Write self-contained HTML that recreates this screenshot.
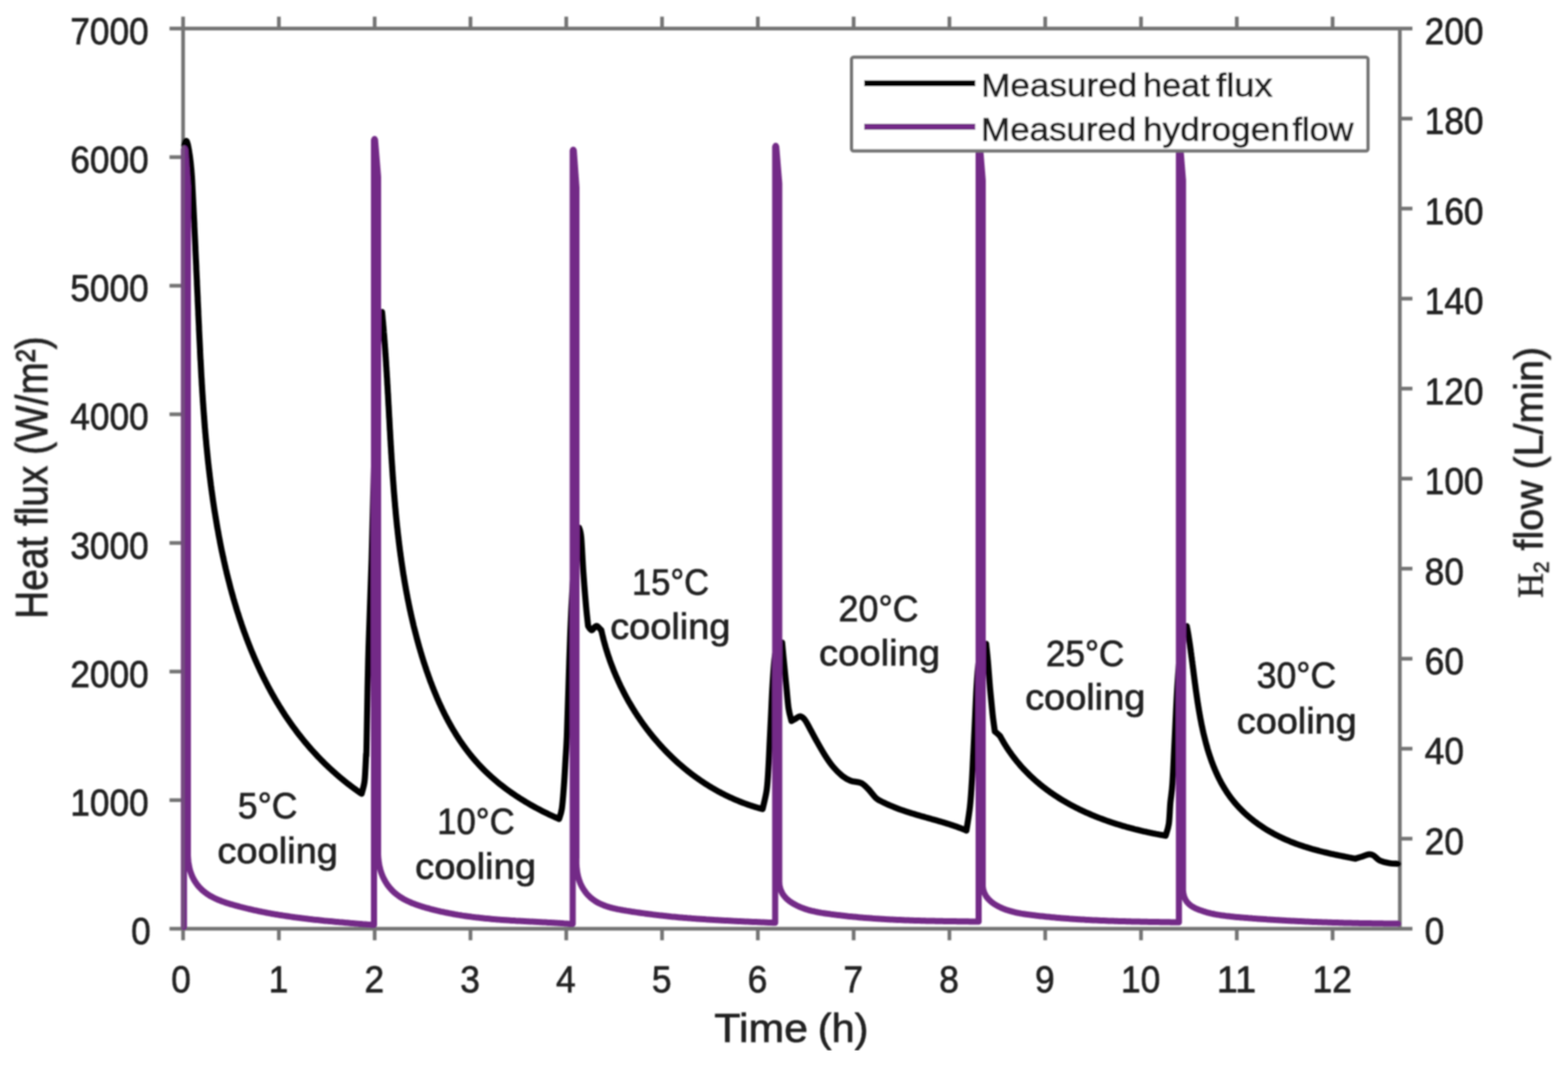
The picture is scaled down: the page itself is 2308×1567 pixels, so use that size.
<!DOCTYPE html>
<html><head><meta charset="utf-8"><title>Heat flux and hydrogen flow</title>
<style>html,body{margin:0;padding:0;background:#fff;}svg{display:block;}</style>
</head><body>
<svg xmlns="http://www.w3.org/2000/svg" width="2308" height="1567" viewBox="0 0 2308 1567">
<defs><filter id="soft" x="0" y="0" width="100%" height="100%"><feGaussianBlur stdDeviation="0.9"/></filter></defs>
<rect width="2308" height="1567" fill="#ffffff"/>
<g filter="url(#soft)">
<g fill="none" stroke="#747474" stroke-width="5.5" stroke-linecap="butt"><path d="M269.5,24.5 V1383.5" /><path d="M249.5,42.0 H2079.0" /><path d="M249.5,1366.5 H2079.0" /><path d="M2060.5,42.0 V1366.5" /><path d="M410.5,24.5 V42.0 M410.5,1366.5 V1383.5" /><path d="M551.5,24.5 V42.0 M551.5,1366.5 V1383.5" /><path d="M692.5,24.5 V42.0 M692.5,1366.5 V1383.5" /><path d="M833.5,24.5 V42.0 M833.5,1366.5 V1383.5" /><path d="M974.5,24.5 V42.0 M974.5,1366.5 V1383.5" /><path d="M1115.5,24.5 V42.0 M1115.5,1366.5 V1383.5" /><path d="M1256.5,24.5 V42.0 M1256.5,1366.5 V1383.5" /><path d="M1397.5,24.5 V42.0 M1397.5,1366.5 V1383.5" /><path d="M1538.5,24.5 V42.0 M1538.5,1366.5 V1383.5" /><path d="M1679.5,24.5 V42.0 M1679.5,1366.5 V1383.5" /><path d="M1820.5,24.5 V42.0 M1820.5,1366.5 V1383.5" /><path d="M1961.5,24.5 V42.0 M1961.5,1366.5 V1383.5" /><path d="M249.5,1177.3 H269.5" /><path d="M249.5,988.1 H269.5" /><path d="M249.5,798.9 H269.5" /><path d="M249.5,609.6 H269.5" /><path d="M249.5,420.4 H269.5" /><path d="M249.5,231.2 H269.5" /><path d="M2060.5,1234.0 H2079" /><path d="M2060.5,1101.6 H2079" /><path d="M2060.5,969.2 H2079" /><path d="M2060.5,836.7 H2079" /><path d="M2060.5,704.2 H2079" /><path d="M2060.5,571.8 H2079" /><path d="M2060.5,439.4 H2079" /><path d="M2060.5,306.9 H2079" /><path d="M2060.5,174.5 H2079" /></g>
<path d="M271.2,214.0 L271.7,211.5 L272.2,209.6 L272.7,208.3 L273.2,207.5 L273.7,207.2 L274.2,207.3 L274.7,207.8 L275.1,208.6 L275.6,209.8 L276.0,211.3 L276.5,212.9 L276.9,214.8 L277.3,216.7 L277.7,218.8 L278.1,221.0 L278.4,223.1 L278.7,225.3 L279.1,227.4 L279.4,229.5 L279.7,231.6 L279.9,233.7 L280.2,235.8 L280.4,237.9 L280.7,240.0 L280.9,242.0 L281.1,244.1 L281.3,246.1 L281.5,248.2 L281.7,250.2 L281.8,252.2 L282.0,254.2 L282.1,256.2 L282.3,258.3 L282.4,260.3 L282.6,262.3 L282.7,264.3 L282.8,266.2 L282.9,268.2 L283.0,270.2 L283.1,272.2 L283.2,274.2 L283.3,276.2 L283.4,278.2 L283.5,280.2 L283.6,282.2 L283.7,284.1 L283.8,286.1 L283.9,288.1 L284.0,290.1 L284.1,292.1 L284.2,294.1 L284.3,296.1 L284.4,298.1 L284.5,300.1 L284.6,302.1 L284.7,304.1 L284.8,306.1 L284.9,308.1 L285.0,310.1 L285.1,312.1 L285.2,314.1 L285.3,316.1 L285.4,318.1 L285.5,320.1 L285.6,322.1 L285.7,324.1 L285.8,326.1 L285.9,328.2 L286.0,330.2 L286.0,332.2 L286.1,334.2 L286.2,336.2 L286.3,338.2 L286.4,340.2 L286.5,342.2 L286.6,344.3 L286.7,346.3 L286.8,348.3 L286.9,350.3 L287.0,352.3 L287.1,354.3 L287.2,356.4 L287.3,358.4 L287.4,360.4 L287.5,362.4 L287.6,364.4 L287.6,366.4 L287.7,368.5 L287.8,370.5 L287.9,372.5 L288.0,374.5 L288.1,376.6 L288.2,378.6 L288.3,380.6 L288.4,382.6 L288.5,384.6 L288.6,386.7 L288.7,388.7 L288.8,390.7 L288.9,392.7 L288.9,394.7 L289.0,396.8 L289.1,398.8 L289.2,400.8 L289.3,402.8 L289.4,404.9 L289.5,406.9 L289.6,408.9 L289.7,410.9 L289.8,412.9 L289.9,415.0 L289.9,417.0 L290.0,419.0 L290.1,421.0 L290.2,423.0 L290.3,425.1 L290.4,427.1 L290.5,429.1 L290.6,431.1 L290.7,433.1 L290.8,435.2 L290.9,437.2 L291.0,439.2 L291.0,441.2 L291.1,443.2 L291.2,445.2 L291.3,447.3 L291.4,449.3 L291.5,451.3 L291.6,453.3 L291.7,455.3 L291.8,457.3 L291.9,459.3 L291.9,461.3 L292.0,463.4 L292.1,465.4 L292.2,467.4 L292.3,469.4 L292.4,471.4 L292.5,473.4 L292.6,475.4 L292.7,477.4 L292.8,479.4 L292.9,481.4 L292.9,483.4 L293.0,485.4 L293.1,487.4 L293.2,489.4 L293.3,491.4 L293.4,493.4 L293.5,495.4 L293.6,497.5 L293.7,499.5 L293.8,501.5 L293.9,503.4 L294.0,505.4 L294.1,507.4 L294.2,509.4 L294.3,511.4 L294.4,513.4 L294.5,515.4 L294.5,517.4 L294.6,519.4 L294.7,521.4 L294.8,523.4 L294.9,525.4 L295.0,527.4 L295.1,529.4 L295.3,531.4 L295.4,533.4 L295.5,535.4 L295.6,537.4 L295.7,539.4 L295.8,541.3 L295.9,543.3 L296.0,545.3 L296.1,547.3 L296.2,549.3 L296.3,551.3 L296.4,553.3 L296.5,555.3 L296.7,557.3 L296.8,559.2 L296.9,561.2 L297.0,563.2 L297.1,565.2 L297.2,567.2 L297.4,569.2 L297.5,571.2 L297.6,573.1 L297.7,575.1 L297.8,577.1 L298.0,579.1 L298.1,581.1 L298.2,583.1 L298.4,585.1 L298.5,587.0 L298.6,589.0 L298.7,591.0 L298.9,593.0 L299.0,595.0 L299.2,597.0 L299.3,598.9 L299.4,600.9 L299.6,602.9 L299.7,604.9 L299.9,606.9 L300.0,608.8 L300.2,610.8 L300.3,612.8 L300.5,614.8 L300.6,616.8 L300.8,618.7 L300.9,620.7 L301.1,622.7 L301.2,624.7 L301.4,626.7 L301.5,628.7 L301.7,630.6 L301.9,632.6 L302.0,634.6 L302.2,636.6 L302.4,638.6 L302.6,640.5 L302.7,642.5 L302.9,644.5 L303.1,646.5 L303.3,648.5 L303.5,650.4 L303.6,652.4 L303.8,654.4 L304.0,656.4 L304.2,658.4 L304.4,660.3 L304.6,662.3 L304.8,664.3 L305.0,666.3 L305.2,668.3 L305.4,670.2 L305.6,672.2 L305.8,674.2 L306.0,676.2 L306.2,678.2 L306.4,680.1 L306.6,682.1 L306.9,684.1 L307.1,686.1 L307.3,688.1 L307.5,690.0 L307.8,692.0 L308.0,694.0 L308.2,696.0 L308.5,698.0 L308.7,700.0 L308.9,701.9 L309.2,703.9 L309.4,705.9 L309.7,707.9 L309.9,709.9 L310.2,711.9 L310.4,713.8 L310.7,715.8 L311.0,717.8 L311.2,719.8 L311.5,721.8 L311.8,723.8 L312.0,725.7 L312.3,727.7 L312.6,729.7 L312.9,731.7 L313.1,733.7 L313.4,735.7 L313.7,737.7 L314.0,739.6 L314.3,741.6 L314.6,743.6 L314.9,745.6 L315.2,747.6 L315.5,749.6 L315.8,751.6 L316.1,753.6 L316.5,755.6 L316.8,757.5 L317.1,759.5 L317.4,761.5 L317.8,763.5 L318.1,765.5 L318.4,767.5 L318.8,769.5 L319.1,771.5 L319.4,773.5 L319.8,775.5 L320.1,777.5 L320.5,779.4 L320.9,781.4 L321.2,783.4 L321.6,785.4 L321.9,787.4 L322.3,789.4 L322.7,791.4 L323.1,793.4 L323.5,795.4 L323.8,797.4 L324.2,799.4 L324.6,801.3 L325.0,803.3 L325.4,805.3 L325.8,807.3 L326.2,809.3 L326.6,811.3 L327.1,813.3 L327.5,815.3 L327.9,817.2 L328.3,819.2 L328.8,821.2 L329.2,823.2 L329.6,825.2 L330.1,827.1 L330.5,829.1 L331.0,831.1 L331.4,833.1 L331.9,835.1 L332.3,837.0 L332.8,839.0 L333.3,841.0 L333.7,843.0 L334.2,844.9 L334.7,846.9 L335.2,848.9 L335.7,850.8 L336.2,852.8 L336.7,854.8 L337.2,856.7 L337.7,858.7 L338.2,860.7 L338.7,862.6 L339.2,864.6 L339.7,866.5 L340.3,868.5 L340.8,870.5 L341.3,872.4 L341.9,874.4 L342.4,876.3 L343.0,878.3 L343.5,880.2 L344.1,882.2 L344.7,884.1 L345.2,886.0 L345.8,888.0 L346.4,889.9 L347.0,891.9 L347.5,893.8 L348.1,895.7 L348.7,897.7 L349.3,899.6 L349.9,901.5 L350.6,903.4 L351.2,905.4 L351.8,907.3 L352.4,909.2 L353.0,911.1 L353.7,913.0 L354.3,914.9 L355.0,916.8 L355.6,918.8 L356.3,920.7 L356.9,922.6 L357.6,924.5 L358.3,926.4 L358.9,928.3 L359.6,930.1 L360.3,932.0 L361.0,933.9 L361.7,935.8 L362.4,937.7 L363.1,939.6 L363.8,941.4 L364.5,943.3 L365.2,945.2 L366.0,947.1 L366.7,948.9 L367.4,950.8 L368.2,952.7 L368.9,954.5 L369.7,956.4 L370.4,958.2 L371.2,960.1 L372.0,961.9 L372.8,963.8 L373.5,965.6 L374.3,967.4 L375.1,969.3 L375.9,971.1 L376.7,972.9 L377.5,974.7 L378.3,976.6 L379.2,978.4 L380.0,980.2 L380.8,982.0 L381.7,983.8 L382.5,985.6 L383.3,987.4 L384.2,989.2 L385.1,991.0 L385.9,992.8 L386.8,994.6 L387.7,996.4 L388.6,998.2 L389.5,999.9 L390.4,1001.7 L391.3,1003.5 L392.2,1005.2 L393.1,1007.0 L394.0,1008.7 L394.9,1010.5 L395.9,1012.2 L396.8,1014.0 L397.7,1015.7 L398.7,1017.5 L399.6,1019.2 L400.6,1020.9 L401.6,1022.7 L402.6,1024.4 L403.5,1026.1 L404.5,1027.8 L405.5,1029.5 L406.5,1031.2 L407.5,1032.9 L408.5,1034.6 L409.6,1036.3 L410.6,1038.0 L411.6,1039.7 L412.7,1041.3 L413.7,1043.0 L414.8,1044.7 L415.8,1046.4 L416.9,1048.0 L418.0,1049.7 L419.0,1051.3 L420.1,1053.0 L421.2,1054.6 L422.3,1056.2 L423.4,1057.9 L424.5,1059.5 L425.7,1061.1 L426.8,1062.7 L427.9,1064.4 L429.1,1066.0 L430.2,1067.6 L431.4,1069.2 L432.5,1070.8 L433.7,1072.3 L434.9,1073.9 L436.0,1075.5 L437.2,1077.1 L438.4,1078.6 L439.6,1080.2 L440.8,1081.8 L442.1,1083.3 L443.3,1084.9 L444.5,1086.4 L445.8,1087.9 L447.0,1089.5 L448.2,1091.0 L449.5,1092.5 L450.8,1094.0 L452.1,1095.5 L453.3,1097.0 L454.6,1098.5 L455.9,1100.0 L457.2,1101.5 L458.5,1103.0 L459.9,1104.5 L461.2,1105.9 L462.5,1107.4 L463.9,1108.8 L465.2,1110.3 L466.6,1111.7 L467.9,1113.2 L469.3,1114.6 L470.7,1116.0 L472.1,1117.5 L473.4,1118.9 L474.9,1120.3 L476.3,1121.7 L477.7,1123.1 L479.1,1124.5 L480.5,1125.9 L482.0,1127.2 L483.4,1128.6 L484.9,1130.0 L486.3,1131.3 L487.8,1132.7 L489.3,1134.0 L490.8,1135.4 L492.3,1136.7 L493.8,1138.0 L495.3,1139.4 L496.8,1140.7 L498.3,1142.0 L499.9,1143.3 L501.4,1144.6 L503.0,1145.9 L504.5,1147.2 L506.1,1148.4 L507.7,1149.7 L509.3,1151.0 L510.8,1152.2 L512.4,1153.5 L514.1,1154.7 L515.7,1155.9 L517.3,1157.2 L518.9,1158.4 L520.6,1159.6 L522.2,1160.8 L523.9,1162.0 L525.5,1163.2 L527.2,1164.4 L528.9,1165.6 L530.6,1166.7 L532.3,1167.9L532.3,1167.9C533.0,1165.1 535.5,1157.2 536.4,1151.0C537.3,1144.8 537.5,1137.4 537.9,1130.6C538.3,1123.8 538.6,1115.3 538.9,1110.2C539.2,1105.1 539.0,1123.2 539.5,1100.0C540.0,1076.8 540.8,1017.1 542.0,971.0C543.2,924.9 545.3,880.9 547.0,823.5C548.7,766.1 550.4,680.1 552.0,626.8C553.6,573.5 555.5,529.9 556.7,503.8C558.0,477.7 558.6,477.5 559.5,470.0C560.4,462.5 561.8,460.8 562.3,459.0L562.3,459.0 L562.5,461.0 L562.7,462.9 L562.9,464.9 L563.0,466.9 L563.2,468.9 L563.4,470.8 L563.6,472.8 L563.8,474.8 L563.9,476.8 L564.1,478.7 L564.3,480.7 L564.5,482.7 L564.6,484.7 L564.8,486.7 L564.9,488.6 L565.1,490.6 L565.3,492.6 L565.4,494.6 L565.6,496.6 L565.7,498.6 L565.9,500.6 L566.0,502.5 L566.2,504.5 L566.3,506.5 L566.5,508.5 L566.6,510.5 L566.8,512.5 L566.9,514.5 L567.1,516.5 L567.2,518.5 L567.3,520.4 L567.5,522.4 L567.6,524.4 L567.8,526.4 L567.9,528.4 L568.0,530.4 L568.2,532.4 L568.3,534.4 L568.4,536.4 L568.5,538.4 L568.7,540.4 L568.8,542.4 L568.9,544.4 L569.0,546.4 L569.2,548.4 L569.3,550.4 L569.4,552.4 L569.5,554.4 L569.7,556.4 L569.8,558.4 L569.9,560.4 L570.0,562.4 L570.1,564.4 L570.2,566.4 L570.4,568.4 L570.5,570.4 L570.6,572.4 L570.7,574.4 L570.8,576.5 L570.9,578.5 L571.1,580.5 L571.2,582.5 L571.3,584.5 L571.4,586.5 L571.5,588.5 L571.6,590.5 L571.7,592.5 L571.8,594.5 L571.9,596.5 L572.1,598.5 L572.2,600.6 L572.3,602.6 L572.4,604.6 L572.5,606.6 L572.6,608.6 L572.7,610.6 L572.8,612.6 L572.9,614.6 L573.1,616.6 L573.2,618.7 L573.3,620.7 L573.4,622.7 L573.5,624.7 L573.6,626.7 L573.7,628.7 L573.8,630.7 L573.9,632.8 L574.1,634.8 L574.2,636.8 L574.3,638.8 L574.4,640.8 L574.5,642.8 L574.6,644.8 L574.7,646.8 L574.9,648.9 L575.0,650.9 L575.1,652.9 L575.2,654.9 L575.3,656.9 L575.5,658.9 L575.6,661.0 L575.7,663.0 L575.8,665.0 L575.9,667.0 L576.1,669.0 L576.2,671.0 L576.3,673.0 L576.4,675.1 L576.6,677.1 L576.7,679.1 L576.8,681.1 L577.0,683.1 L577.1,685.1 L577.2,687.1 L577.4,689.2 L577.5,691.2 L577.6,693.2 L577.8,695.2 L577.9,697.2 L578.0,699.2 L578.2,701.2 L578.3,703.2 L578.5,705.3 L578.6,707.3 L578.8,709.3 L578.9,711.3 L579.1,713.3 L579.2,715.3 L579.4,717.3 L579.5,719.3 L579.7,721.4 L579.8,723.4 L580.0,725.4 L580.2,727.4 L580.3,729.4 L580.5,731.4 L580.7,733.4 L580.8,735.4 L581.0,737.4 L581.2,739.4 L581.4,741.5 L581.5,743.5 L581.7,745.5 L581.9,747.5 L582.1,749.5 L582.3,751.5 L582.4,753.5 L582.6,755.5 L582.8,757.5 L583.0,759.5 L583.2,761.5 L583.4,763.5 L583.6,765.5 L583.8,767.5 L584.0,769.5 L584.2,771.5 L584.4,773.5 L584.6,775.5 L584.9,777.5 L585.1,779.5 L585.3,781.5 L585.5,783.5 L585.7,785.5 L586.0,787.5 L586.2,789.5 L586.4,791.5 L586.7,793.5 L586.9,795.5 L587.1,797.5 L587.4,799.5 L587.6,801.5 L587.9,803.5 L588.1,805.5 L588.4,807.5 L588.6,809.5 L588.9,811.5 L589.2,813.5 L589.4,815.5 L589.7,817.5 L590.0,819.4 L590.3,821.4 L590.5,823.4 L590.8,825.4 L591.1,827.4 L591.4,829.4 L591.7,831.4 L592.0,833.4 L592.3,835.3 L592.6,837.3 L592.9,839.3 L593.2,841.3 L593.5,843.3 L593.8,845.3 L594.1,847.2 L594.5,849.2 L594.8,851.2 L595.1,853.2 L595.4,855.1 L595.8,857.1 L596.1,859.1 L596.5,861.1 L596.8,863.0 L597.2,865.0 L597.5,867.0 L597.9,869.0 L598.2,870.9 L598.6,872.9 L599.0,874.9 L599.4,876.8 L599.7,878.8 L600.1,880.8 L600.5,882.7 L600.9,884.7 L601.3,886.7 L601.7,888.6 L602.1,890.6 L602.5,892.5 L602.9,894.5 L603.3,896.5 L603.7,898.4 L604.2,900.4 L604.6,902.3 L605.0,904.3 L605.5,906.2 L605.9,908.2 L606.4,910.1 L606.8,912.1 L607.3,914.0 L607.7,916.0 L608.2,917.9 L608.6,919.9 L609.1,921.8 L609.6,923.8 L610.1,925.7 L610.6,927.6 L611.1,929.6 L611.6,931.5 L612.1,933.5 L612.6,935.4 L613.1,937.3 L613.6,939.3 L614.1,941.2 L614.6,943.1 L615.2,945.1 L615.7,947.0 L616.2,948.9 L616.8,950.8 L617.3,952.8 L617.9,954.7 L618.5,956.6 L619.0,958.5 L619.6,960.5 L620.2,962.4 L620.7,964.3 L621.3,966.2 L621.9,968.1 L622.5,970.0 L623.1,972.0 L623.7,973.9 L624.3,975.8 L625.0,977.7 L625.6,979.6 L626.2,981.5 L626.9,983.4 L627.5,985.3 L628.1,987.2 L628.8,989.1 L629.5,991.0 L630.1,992.9 L630.8,994.8 L631.5,996.7 L632.2,998.6 L632.8,1000.5 L633.5,1002.3 L634.2,1004.2 L635.0,1006.1 L635.7,1008.0 L636.4,1009.8 L637.1,1011.7 L637.9,1013.6 L638.6,1015.4 L639.4,1017.3 L640.1,1019.1 L640.9,1021.0 L641.7,1022.8 L642.4,1024.7 L643.2,1026.5 L644.0,1028.4 L644.8,1030.2 L645.6,1032.0 L646.4,1033.9 L647.3,1035.7 L648.1,1037.5 L648.9,1039.3 L649.8,1041.1 L650.6,1042.9 L651.5,1044.7 L652.4,1046.5 L653.2,1048.3 L654.1,1050.1 L655.0,1051.8 L655.9,1053.6 L656.8,1055.4 L657.8,1057.1 L658.7,1058.9 L659.6,1060.7 L660.6,1062.4 L661.5,1064.1 L662.5,1065.9 L663.5,1067.6 L664.4,1069.3 L665.4,1071.0 L666.4,1072.7 L667.4,1074.4 L668.5,1076.1 L669.5,1077.8 L670.5,1079.5 L671.6,1081.2 L672.6,1082.9 L673.7,1084.5 L674.8,1086.2 L675.8,1087.8 L676.9,1089.5 L678.0,1091.1 L679.2,1092.7 L680.3,1094.4 L681.4,1096.0 L682.6,1097.6 L683.7,1099.2 L684.9,1100.8 L686.0,1102.3 L687.2,1103.9 L688.4,1105.5 L689.6,1107.0 L690.8,1108.6 L692.1,1110.1 L693.3,1111.7 L694.6,1113.2 L695.8,1114.7 L697.1,1116.2 L698.4,1117.7 L699.7,1119.2 L701.0,1120.7 L702.3,1122.1 L703.6,1123.6 L704.9,1125.1 L706.3,1126.5 L707.6,1127.9 L709.0,1129.4 L710.4,1130.8 L711.8,1132.2 L713.2,1133.6 L714.6,1135.0 L716.0,1136.4 L717.5,1137.7 L718.9,1139.1 L720.4,1140.4 L721.9,1141.8 L723.3,1143.1 L724.8,1144.4 L726.3,1145.7 L727.8,1147.0 L729.4,1148.3 L730.9,1149.6 L732.4,1150.9 L734.0,1152.2 L735.5,1153.4 L737.1,1154.7 L738.7,1155.9 L740.3,1157.1 L741.9,1158.4 L743.5,1159.6 L745.1,1160.8 L746.7,1162.0 L748.3,1163.2 L750.0,1164.3 L751.6,1165.5 L753.3,1166.7 L754.9,1167.8 L756.6,1168.9 L758.3,1170.1 L759.9,1171.2 L761.6,1172.3 L763.3,1173.4 L765.0,1174.5 L766.8,1175.6 L768.5,1176.7 L770.2,1177.7 L772.0,1178.8 L773.7,1179.9 L775.4,1180.9 L777.2,1181.9 L779.0,1183.0 L780.7,1184.0 L782.5,1185.0 L784.3,1186.0 L786.1,1187.0 L787.9,1188.0 L789.7,1188.9 L791.5,1189.9 L793.3,1190.8 L795.1,1191.8 L796.9,1192.7 L798.7,1193.7 L800.6,1194.6 L802.4,1195.5 L804.3,1196.4 L806.1,1197.3 L807.9,1198.2 L809.8,1199.1 L811.7,1199.9 L813.5,1200.8 L815.4,1201.7 L817.3,1202.5 L819.1,1203.3 L821.0,1204.2 L822.9,1205.0L822.9,1205.0C823.6,1202.5 825.8,1198.0 827.0,1190.0C828.2,1182.0 829.1,1168.7 830.0,1157.0C830.9,1145.3 831.6,1132.2 832.3,1120.0C833.0,1107.8 833.6,1101.8 834.4,1083.5C835.1,1065.2 835.9,1035.6 836.8,1010.0C837.6,984.4 838.5,955.0 839.5,930.0C840.5,905.0 841.8,880.0 843.0,860.0C844.2,840.0 845.8,822.5 847.0,810.0C848.2,797.5 849.4,790.6 850.3,785.0C851.2,779.4 852.0,777.8 852.4,776.3L852.4,776.3C852.9,778.7 854.5,779.7 855.5,790.6C856.5,801.5 857.4,824.6 858.6,841.6C859.8,858.6 861.5,879.4 862.7,892.7C863.9,906.0 865.2,916.5 865.7,921.3L865.7,921.3C866.6,922.3 869.2,927.1 870.8,927.3C872.4,927.5 874.1,923.5 875.5,922.5C876.9,921.5 877.4,920.4 879.0,921.2C880.6,922.0 884.1,926.3 885.1,927.3L885.1,927.3 L885.5,929.3 L886.0,931.2 L886.4,933.2 L886.9,935.1 L887.4,937.1 L887.8,939.0 L888.3,940.9 L888.8,942.9 L889.4,944.8 L889.9,946.8 L890.4,948.7 L891.0,950.6 L891.5,952.5 L892.1,954.5 L892.7,956.4 L893.3,958.3 L893.9,960.2 L894.5,962.2 L895.1,964.1 L895.8,966.0 L896.4,967.9 L897.1,969.8 L897.7,971.7 L898.4,973.6 L899.1,975.5 L899.8,977.4 L900.5,979.2 L901.2,981.1 L902.0,983.0 L902.7,984.9 L903.4,986.8 L904.2,988.6 L905.0,990.5 L905.8,992.3 L906.5,994.2 L907.4,996.1 L908.2,997.9 L909.0,999.7 L909.8,1001.6 L910.7,1003.4 L911.5,1005.3 L912.4,1007.1 L913.2,1008.9 L914.1,1010.7 L915.0,1012.5 L915.9,1014.3 L916.8,1016.1 L917.7,1017.9 L918.7,1019.7 L919.6,1021.5 L920.5,1023.3 L921.5,1025.1 L922.5,1026.9 L923.4,1028.6 L924.4,1030.4 L925.4,1032.2 L926.4,1033.9 L927.5,1035.7 L928.5,1037.4 L929.5,1039.1 L930.6,1040.9 L931.6,1042.6 L932.7,1044.3 L933.7,1046.0 L934.8,1047.7 L935.9,1049.4 L937.0,1051.1 L938.1,1052.8 L939.2,1054.5 L940.4,1056.2 L941.5,1057.8 L942.6,1059.5 L943.8,1061.2 L944.9,1062.8 L946.1,1064.5 L947.3,1066.1 L948.5,1067.7 L949.7,1069.4 L950.9,1071.0 L952.1,1072.6 L953.3,1074.2 L954.6,1075.8 L955.8,1077.4 L957.0,1079.0 L958.3,1080.5 L959.6,1082.1 L960.8,1083.7 L962.1,1085.2 L963.4,1086.8 L964.7,1088.3 L966.0,1089.8 L967.4,1091.4 L968.7,1092.9 L970.0,1094.4 L971.4,1095.9 L972.7,1097.4 L974.1,1098.9 L975.4,1100.3 L976.8,1101.8 L978.2,1103.3 L979.6,1104.7 L981.0,1106.1 L982.4,1107.6 L983.8,1109.0 L985.2,1110.4 L986.7,1111.8 L988.1,1113.2 L989.6,1114.6 L991.0,1116.0 L992.5,1117.4 L993.9,1118.7 L995.4,1120.1 L996.9,1121.5 L998.4,1122.8 L999.9,1124.1 L1001.4,1125.4 L1002.9,1126.7 L1004.5,1128.1 L1006.0,1129.3 L1007.5,1130.6 L1009.1,1131.9 L1010.6,1133.2 L1012.2,1134.4 L1013.8,1135.7 L1015.4,1136.9 L1016.9,1138.1 L1018.5,1139.3 L1020.1,1140.5 L1021.7,1141.7 L1023.4,1142.9 L1025.0,1144.1 L1026.6,1145.2 L1028.2,1146.4 L1029.9,1147.5 L1031.5,1148.7 L1033.2,1149.8 L1034.9,1150.9 L1036.5,1152.0 L1038.2,1153.1 L1039.9,1154.2 L1041.6,1155.2 L1043.3,1156.3 L1045.0,1157.3 L1046.7,1158.4 L1048.4,1159.4 L1050.2,1160.4 L1051.9,1161.4 L1053.6,1162.4 L1055.4,1163.4 L1057.1,1164.4 L1058.9,1165.3 L1060.7,1166.3 L1062.4,1167.2 L1064.2,1168.1 L1066.0,1169.0 L1067.8,1169.9 L1069.6,1170.8 L1071.4,1171.7 L1073.2,1172.5 L1075.0,1173.4 L1076.9,1174.2 L1078.7,1175.0 L1080.5,1175.9 L1082.4,1176.7 L1084.2,1177.4 L1086.1,1178.2 L1087.9,1179.0 L1089.8,1179.7 L1091.7,1180.5 L1093.6,1181.2 L1095.5,1181.9 L1097.4,1182.6 L1099.3,1183.3 L1101.2,1184.0 L1103.1,1184.6 L1105.0,1185.3 L1106.9,1185.9 L1108.8,1186.5 L1110.8,1187.1 L1112.7,1187.7 L1114.7,1188.3 L1116.6,1188.9 L1118.6,1189.4 L1120.5,1190.0 L1122.5,1190.5L1122.5,1190.5C1123.5,1185.8 1127.1,1172.8 1128.6,1162.0C1130.1,1151.2 1130.6,1137.8 1131.3,1126.0C1132.0,1114.2 1132.4,1102.8 1133.0,1091.0C1133.6,1079.2 1134.1,1068.5 1134.8,1055.0C1135.5,1041.5 1136.1,1024.2 1137.0,1010.0C1137.9,995.8 1138.8,980.0 1140.0,970.0C1141.2,960.0 1142.6,954.1 1144.5,950.0C1146.4,945.9 1150.1,946.2 1151.2,945.5L1151.2,945.5C1151.6,950.1 1152.8,962.7 1153.8,973.0C1154.8,983.3 1156.0,996.0 1157.2,1007.5C1158.4,1019.0 1159.4,1033.1 1160.7,1042.0C1162.0,1050.9 1164.3,1057.8 1165.0,1060.9L1165.0,1060.9C1166.0,1060.3 1168.8,1058.7 1171.0,1057.5C1173.2,1056.3 1175.6,1053.7 1177.9,1054.0C1180.2,1054.3 1182.5,1056.3 1184.8,1059.2C1187.1,1062.1 1188.8,1066.0 1191.7,1071.2C1194.6,1076.4 1198.3,1083.6 1202.0,1090.2C1205.7,1096.8 1210.0,1104.5 1214.0,1110.8C1218.0,1117.1 1221.8,1122.8 1226.1,1128.0C1230.4,1133.2 1235.6,1138.3 1239.9,1141.8C1244.2,1145.2 1247.4,1147.0 1252.0,1148.7C1256.6,1150.4 1263.2,1150.2 1267.5,1152.2C1271.8,1154.2 1274.1,1157.1 1277.8,1160.8C1281.5,1164.5 1286.1,1171.3 1289.8,1174.6C1293.5,1177.9 1298.3,1179.5 1300.0,1180.5L1300.0,1180.5 L1301.9,1181.4 L1303.7,1182.3 L1305.6,1183.2 L1307.5,1184.0 L1309.4,1184.8 L1311.3,1185.6 L1313.2,1186.4 L1315.1,1187.2 L1317.0,1188.0 L1318.9,1188.7 L1320.8,1189.5 L1322.7,1190.2 L1324.7,1190.9 L1326.6,1191.6 L1328.6,1192.3 L1330.5,1192.9 L1332.4,1193.6 L1334.4,1194.2 L1336.3,1194.9 L1338.3,1195.5 L1340.3,1196.1 L1342.2,1196.7 L1344.2,1197.3 L1346.2,1197.9 L1348.1,1198.5 L1350.1,1199.1 L1352.1,1199.6 L1354.0,1200.2 L1356.0,1200.8 L1358.0,1201.3 L1360.0,1201.9 L1362.0,1202.5 L1363.9,1203.0 L1365.9,1203.6 L1367.9,1204.1 L1369.9,1204.7 L1371.9,1205.3 L1373.8,1205.8 L1375.8,1206.4 L1377.8,1206.9 L1379.8,1207.5 L1381.7,1208.1 L1383.7,1208.6 L1385.7,1209.2 L1387.6,1209.8 L1389.6,1210.4 L1391.6,1211.0 L1393.5,1211.6 L1395.5,1212.2 L1397.4,1212.8 L1399.4,1213.5 L1401.3,1214.1 L1403.3,1214.8 L1405.2,1215.4 L1407.2,1216.1 L1409.1,1216.8 L1411.0,1217.5 L1413.0,1218.2 L1414.9,1218.9 L1416.8,1219.7 L1418.7,1220.4 L1420.6,1221.2 L1422.5,1222.0L1422.5,1222.0C1423.4,1216.2 1426.3,1199.4 1427.7,1187.0C1429.1,1174.6 1429.9,1160.7 1430.7,1147.5C1431.5,1134.3 1432.0,1121.2 1432.7,1108.0C1433.4,1094.8 1433.9,1084.3 1434.7,1068.0C1435.5,1051.7 1436.5,1026.3 1437.5,1010.0C1438.5,993.7 1439.7,979.7 1441.0,970.0C1442.3,960.3 1443.8,955.8 1445.5,952.0C1447.2,948.2 1450.5,948.0 1451.5,947.2L1451.5,947.2C1451.9,951.5 1453.1,961.5 1454.1,973.0C1455.1,984.5 1456.4,1003.2 1457.6,1016.1C1458.8,1029.0 1459.9,1040.5 1461.0,1050.6C1462.1,1060.6 1463.8,1072.1 1464.4,1076.4L1464.4,1076.4C1464.8,1076.7 1465.7,1077.3 1467.0,1078.4C1468.3,1079.5 1471.2,1082.2 1472.0,1083.0L1472.0,1083.0 L1473.0,1084.8 L1474.0,1086.7 L1475.1,1088.5 L1476.1,1090.3 L1477.1,1092.1 L1478.2,1093.9 L1479.3,1095.7 L1480.4,1097.4 L1481.5,1099.2 L1482.6,1100.9 L1483.8,1102.6 L1484.9,1104.3 L1486.1,1106.0 L1487.3,1107.7 L1488.4,1109.3 L1489.6,1111.0 L1490.9,1112.6 L1492.1,1114.2 L1493.3,1115.8 L1494.6,1117.4 L1495.8,1119.0 L1497.1,1120.6 L1498.4,1122.1 L1499.7,1123.6 L1501.0,1125.2 L1502.3,1126.7 L1503.6,1128.2 L1505.0,1129.7 L1506.3,1131.1 L1507.7,1132.6 L1509.1,1134.0 L1510.5,1135.5 L1511.9,1136.9 L1513.3,1138.3 L1514.7,1139.7 L1516.1,1141.1 L1517.6,1142.5 L1519.0,1143.8 L1520.5,1145.2 L1522.0,1146.5 L1523.4,1147.8 L1524.9,1149.1 L1526.4,1150.4 L1528.0,1151.7 L1529.5,1153.0 L1531.0,1154.3 L1532.6,1155.5 L1534.1,1156.8 L1535.7,1158.0 L1537.2,1159.2 L1538.8,1160.4 L1540.4,1161.6 L1542.0,1162.8 L1543.6,1163.9 L1545.2,1165.1 L1546.8,1166.3 L1548.5,1167.4 L1550.1,1168.5 L1551.8,1169.6 L1553.4,1170.7 L1555.1,1171.8 L1556.8,1172.9 L1558.4,1174.0 L1560.1,1175.0 L1561.8,1176.1 L1563.5,1177.1 L1565.2,1178.1 L1567.0,1179.1 L1568.7,1180.1 L1570.4,1181.1 L1572.2,1182.1 L1573.9,1183.1 L1575.7,1184.1 L1577.4,1185.0 L1579.2,1185.9 L1581.0,1186.9 L1582.7,1187.8 L1584.5,1188.7 L1586.3,1189.6 L1588.1,1190.5 L1589.9,1191.4 L1591.7,1192.2 L1593.6,1193.1 L1595.4,1193.9 L1597.2,1194.8 L1599.0,1195.6 L1600.9,1196.4 L1602.7,1197.2 L1604.6,1198.0 L1606.4,1198.8 L1608.3,1199.6 L1610.2,1200.4 L1612.0,1201.2 L1613.9,1201.9 L1615.8,1202.7 L1617.7,1203.4 L1619.6,1204.1 L1621.5,1204.8 L1623.4,1205.5 L1625.3,1206.2 L1627.2,1206.9 L1629.1,1207.6 L1631.0,1208.3 L1632.9,1208.9 L1634.9,1209.6 L1636.8,1210.2 L1638.7,1210.9 L1640.6,1211.5 L1642.6,1212.1 L1644.5,1212.7 L1646.5,1213.3 L1648.4,1213.9 L1650.4,1214.5 L1652.3,1215.1 L1654.3,1215.7 L1656.2,1216.2 L1658.2,1216.8 L1660.2,1217.3 L1662.1,1217.9 L1664.1,1218.4 L1666.1,1218.9 L1668.0,1219.4 L1670.0,1220.0 L1672.0,1220.5 L1674.0,1220.9 L1675.9,1221.4 L1677.9,1221.9 L1679.9,1222.4 L1681.9,1222.8 L1683.9,1223.3 L1685.9,1223.7 L1687.8,1224.2 L1689.8,1224.6 L1691.8,1225.0 L1693.8,1225.5 L1695.8,1225.9 L1697.8,1226.3 L1699.8,1226.7 L1701.8,1227.1 L1703.8,1227.4 L1705.7,1227.8 L1707.7,1228.2 L1709.7,1228.5 L1711.7,1228.9 L1713.7,1229.3 L1715.7,1229.6L1715.7,1229.6C1716.5,1226.7 1719.2,1220.5 1720.4,1212.4C1721.6,1204.3 1721.8,1191.2 1722.7,1181.2C1723.6,1171.2 1724.8,1167.9 1725.8,1152.6C1726.8,1137.3 1727.8,1113.3 1729.0,1089.5C1730.2,1065.7 1731.5,1033.2 1733.0,1010.0C1734.5,986.8 1736.4,964.0 1738.0,950.0C1739.6,936.0 1741.0,930.8 1742.5,926.0C1744.0,921.2 1746.2,922.1 1746.9,921.3L1746.9,921.3 L1747.2,923.1 L1747.6,925.0 L1747.9,926.8 L1748.2,928.7 L1748.6,930.5 L1748.9,932.4 L1749.2,934.3 L1749.5,936.1 L1749.8,938.0 L1750.1,939.9 L1750.4,941.8 L1750.7,943.8 L1751.0,945.7 L1751.3,947.6 L1751.6,949.6 L1751.8,951.5 L1752.1,953.5 L1752.4,955.4 L1752.7,957.4 L1752.9,959.3 L1753.2,961.3 L1753.5,963.3 L1753.7,965.3 L1754.0,967.3 L1754.3,969.3 L1754.5,971.3 L1754.8,973.3 L1755.1,975.3 L1755.3,977.3 L1755.6,979.3 L1755.8,981.4 L1756.1,983.4 L1756.4,985.4 L1756.6,987.5 L1756.9,989.5 L1757.1,991.6 L1757.4,993.6 L1757.7,995.7 L1757.9,997.7 L1758.2,999.8 L1758.5,1001.8 L1758.7,1003.9 L1759.0,1005.9 L1759.3,1008.0 L1759.6,1010.1 L1759.8,1012.1 L1760.1,1014.2 L1760.4,1016.3 L1760.7,1018.3 L1761.0,1020.4 L1761.3,1022.5 L1761.6,1024.6 L1761.9,1026.6 L1762.2,1028.7 L1762.5,1030.8 L1762.8,1032.9 L1763.1,1034.9 L1763.5,1037.0 L1763.8,1039.1 L1764.1,1041.1 L1764.5,1043.2 L1764.8,1045.3 L1765.2,1047.3 L1765.5,1049.4 L1765.9,1051.5 L1766.3,1053.5 L1766.6,1055.6 L1767.0,1057.6 L1767.4,1059.7 L1767.8,1061.7 L1768.2,1063.8 L1768.6,1065.8 L1769.0,1067.9 L1769.5,1069.9 L1769.9,1071.9 L1770.3,1074.0 L1770.8,1076.0 L1771.2,1078.0 L1771.7,1080.0 L1772.2,1082.0 L1772.7,1084.0 L1773.2,1086.0 L1773.7,1088.0 L1774.2,1090.0 L1774.7,1092.0 L1775.2,1094.0 L1775.8,1096.0 L1776.3,1097.9 L1776.9,1099.9 L1777.4,1101.9 L1778.0,1103.8 L1778.6,1105.8 L1779.2,1107.7 L1779.8,1109.6 L1780.5,1111.6 L1781.1,1113.5 L1781.8,1115.4 L1782.4,1117.3 L1783.1,1119.2 L1783.8,1121.1 L1784.5,1122.9 L1785.2,1124.8 L1785.9,1126.7 L1786.7,1128.5 L1787.4,1130.3 L1788.2,1132.2 L1789.0,1134.0 L1789.8,1135.8 L1790.6,1137.6 L1791.4,1139.4 L1792.2,1141.2 L1793.1,1143.0 L1793.9,1144.7 L1794.8,1146.5 L1795.7,1148.2 L1796.6,1149.9 L1797.5,1151.7 L1798.5,1153.4 L1799.4,1155.1 L1800.4,1156.7 L1801.4,1158.4 L1802.4,1160.1 L1803.4,1161.7 L1804.5,1163.4 L1805.5,1165.0 L1806.6,1166.6 L1807.7,1168.2 L1808.8,1169.8 L1809.9,1171.4 L1811.0,1172.9 L1812.2,1174.5 L1813.4,1176.0 L1814.6,1177.5 L1815.8,1179.0 L1817.0,1180.5 L1818.3,1182.0 L1819.5,1183.4 L1820.8,1184.9 L1822.1,1186.3 L1823.4,1187.7 L1824.8,1189.1 L1826.1,1190.5 L1827.5,1191.9 L1828.9,1193.3 L1830.3,1194.6 L1831.7,1196.0 L1833.1,1197.3 L1834.6,1198.6 L1836.0,1199.9 L1837.5,1201.2 L1839.0,1202.4 L1840.5,1203.7 L1842.0,1204.9 L1843.5,1206.1 L1845.1,1207.4 L1846.6,1208.6 L1848.2,1209.7 L1849.8,1210.9 L1851.4,1212.1 L1853.0,1213.2 L1854.6,1214.3 L1856.3,1215.4 L1857.9,1216.5 L1859.6,1217.6 L1861.2,1218.7 L1862.9,1219.8 L1864.6,1220.8 L1866.3,1221.8 L1868.1,1222.9 L1869.8,1223.9 L1871.5,1224.8 L1873.3,1225.8 L1875.0,1226.8 L1876.8,1227.7 L1878.6,1228.7 L1880.4,1229.6 L1882.2,1230.5 L1884.0,1231.4 L1885.8,1232.2 L1887.7,1233.1 L1889.5,1234.0 L1891.4,1234.8 L1893.2,1235.6 L1895.1,1236.4 L1897.0,1237.2 L1898.8,1238.0 L1900.7,1238.8 L1902.6,1239.5 L1904.5,1240.2 L1906.4,1241.0 L1908.4,1241.7 L1910.3,1242.4 L1912.2,1243.1 L1914.2,1243.7 L1916.1,1244.4 L1918.1,1245.0 L1920.0,1245.7 L1922.0,1246.3 L1923.9,1246.9 L1925.9,1247.5 L1927.9,1248.1 L1929.8,1248.7 L1931.8,1249.3 L1933.8,1249.8 L1935.8,1250.4 L1937.8,1250.9 L1939.8,1251.4 L1941.7,1252.0 L1943.7,1252.5 L1945.7,1253.0 L1947.7,1253.5 L1949.7,1254.0 L1951.7,1254.4 L1953.7,1254.9 L1955.7,1255.4 L1957.7,1255.8 L1959.7,1256.3 L1961.6,1256.7 L1963.6,1257.2 L1965.6,1257.6 L1967.6,1258.0 L1969.6,1258.4 L1971.5,1258.8 L1973.5,1259.2 L1975.5,1259.6 L1977.5,1260.0 L1979.4,1260.4 L1981.4,1260.8 L1983.3,1261.2 L1985.3,1261.6 L1987.2,1261.9 L1989.1,1262.3 L1991.1,1262.7 L1993.0,1263.0 L1994.9,1263.4L1994.9,1263.4C1996.5,1262.9 2001.2,1261.5 2004.4,1260.5C2007.6,1259.5 2011.1,1257.5 2014.0,1257.2C2016.9,1256.9 2018.8,1257.1 2021.6,1258.6C2024.4,1260.1 2027.1,1264.4 2031.1,1266.3C2035.1,1268.2 2040.9,1269.3 2045.4,1270.1C2049.9,1270.9 2055.9,1270.8 2058.0,1271.0" fill="none" stroke="#000" stroke-width="9" stroke-linejoin="round" stroke-linecap="round"/>
<path d="M270.8,1364 L270.8,220.0 L271.6,218.5 L272.4,220.0 L276.5,274.0 L276.5,1250.0 L276.5,1252.0 L276.5,1254.0 L276.5,1256.0 L276.5,1258.0 L276.6,1260.1 L276.7,1262.1 L276.9,1264.2 L277.1,1266.2 L277.3,1268.3 L277.6,1270.3 L277.9,1272.4 L278.3,1274.4 L278.7,1276.5 L279.2,1278.5 L279.7,1280.5 L280.3,1282.5 L281.0,1284.4 L281.7,1286.3 L282.4,1288.2 L283.3,1290.1 L284.2,1291.9 L285.1,1293.7 L286.1,1295.5 L287.2,1297.2 L288.3,1298.9 L289.5,1300.6 L290.7,1302.2 L292.0,1303.7 L293.3,1305.2 L294.7,1306.7 L296.1,1308.1 L297.5,1309.5 L299.0,1310.8 L300.5,1312.0 L302.1,1313.3 L303.7,1314.4 L305.3,1315.6 L307.0,1316.6 L308.6,1317.7 L310.4,1318.7 L312.1,1319.6 L313.9,1320.6 L315.7,1321.5 L317.5,1322.3 L319.3,1323.2 L321.2,1324.0 L323.1,1324.7 L325.0,1325.5 L326.9,1326.2 L328.8,1326.9 L330.8,1327.6 L332.7,1328.2 L334.7,1328.9 L336.7,1329.5 L338.6,1330.1 L340.6,1330.7 L342.6,1331.2 L344.6,1331.8 L346.6,1332.4 L348.6,1332.9 L350.6,1333.4 L352.6,1334.0 L354.6,1334.5 L356.6,1335.0 L358.6,1335.5 L360.6,1336.0 L362.6,1336.5 L364.6,1337.0 L366.6,1337.5 L368.6,1337.9 L370.6,1338.4 L372.6,1338.8 L374.6,1339.3 L376.6,1339.7 L378.6,1340.1 L380.6,1340.6 L382.6,1341.0 L384.6,1341.4 L386.6,1341.8 L388.6,1342.2 L390.6,1342.6 L392.6,1343.0 L394.6,1343.4 L396.6,1343.7 L398.6,1344.1 L400.6,1344.5 L402.6,1344.8 L404.6,1345.2 L406.6,1345.5 L408.6,1345.8 L410.6,1346.2 L412.6,1346.5 L414.6,1346.8 L416.6,1347.1 L418.6,1347.4 L420.6,1347.7 L422.6,1348.0 L424.6,1348.3 L426.6,1348.6 L428.6,1348.9 L430.6,1349.2 L432.6,1349.5 L434.6,1349.8 L436.6,1350.0 L438.7,1350.3 L440.7,1350.5 L442.7,1350.8 L444.7,1351.1 L446.7,1351.3 L448.7,1351.6 L450.7,1351.8 L452.7,1352.0 L454.7,1352.3 L456.8,1352.5 L458.8,1352.7 L460.8,1353.0 L462.8,1353.2 L464.8,1353.4 L466.8,1353.6 L468.8,1353.8 L470.9,1354.0 L472.9,1354.2 L474.9,1354.4 L476.9,1354.7 L478.9,1354.9 L481.0,1355.1 L483.0,1355.2 L485.0,1355.4 L487.0,1355.6 L489.0,1355.8 L491.1,1356.0 L493.1,1356.2 L495.1,1356.4 L497.1,1356.6 L499.2,1356.8 L501.2,1356.9 L503.2,1357.1 L505.2,1357.3 L507.3,1357.5 L509.3,1357.7 L511.3,1357.8 L513.4,1358.0 L515.4,1358.2 L517.4,1358.4 L519.5,1358.5 L521.5,1358.7 L523.5,1358.9 L525.6,1359.1 L527.6,1359.2 L529.6,1359.4 L531.7,1359.6 L533.7,1359.8 L535.8,1359.9 L537.8,1360.1 L539.8,1360.3 L541.9,1360.5 L543.9,1360.6 L546.0,1360.8 L548.0,1361.0 L550.5,1361.0 L550.5,206.0 L551.3,204.5 L552.1,206.0 L556.5,260.0 L556.5,1255.0 L556.5,1257.1 L556.6,1259.1 L556.7,1261.2 L556.9,1263.3 L557.1,1265.4 L557.4,1267.5 L557.7,1269.6 L558.0,1271.6 L558.4,1273.7 L558.9,1275.8 L559.4,1277.9 L559.9,1279.9 L560.5,1282.0 L561.2,1284.0 L561.9,1286.0 L562.7,1287.9 L563.5,1289.9 L564.4,1291.8 L565.4,1293.7 L566.4,1295.5 L567.4,1297.4 L568.5,1299.1 L569.6,1300.9 L570.8,1302.6 L572.1,1304.2 L573.3,1305.8 L574.7,1307.4 L576.1,1308.9 L577.5,1310.4 L578.9,1311.8 L580.4,1313.2 L582.0,1314.5 L583.6,1315.8 L585.2,1317.0 L586.8,1318.2 L588.5,1319.4 L590.2,1320.5 L592.0,1321.5 L593.7,1322.6 L595.5,1323.6 L597.4,1324.5 L599.2,1325.4 L601.1,1326.3 L603.0,1327.2 L604.9,1328.0 L606.8,1328.8 L608.8,1329.6 L610.8,1330.3 L612.7,1331.1 L614.7,1331.8 L616.7,1332.4 L618.8,1333.1 L620.8,1333.7 L622.8,1334.4 L624.9,1335.0 L626.9,1335.6 L628.9,1336.1 L631.0,1336.7 L633.0,1337.3 L635.1,1337.8 L637.1,1338.3 L639.2,1338.9 L641.2,1339.4 L643.3,1339.9 L645.3,1340.3 L647.4,1340.8 L649.4,1341.3 L651.5,1341.7 L653.5,1342.2 L655.6,1342.6 L657.7,1343.0 L659.7,1343.4 L661.8,1343.8 L663.8,1344.2 L665.9,1344.6 L667.9,1345.0 L670.0,1345.4 L672.1,1345.7 L674.1,1346.1 L676.2,1346.4 L678.2,1346.7 L680.3,1347.1 L682.4,1347.4 L684.4,1347.7 L686.5,1348.0 L688.5,1348.3 L690.6,1348.6 L692.7,1348.8 L694.7,1349.1 L696.8,1349.4 L698.9,1349.6 L700.9,1349.9 L703.0,1350.1 L705.1,1350.3 L707.2,1350.6 L709.2,1350.8 L711.3,1351.0 L713.4,1351.2 L715.4,1351.4 L717.5,1351.6 L719.6,1351.8 L721.7,1352.0 L723.7,1352.2 L725.8,1352.4 L727.9,1352.6 L729.9,1352.7 L732.0,1352.9 L734.1,1353.1 L736.2,1353.2 L738.3,1353.4 L740.3,1353.5 L742.4,1353.7 L744.5,1353.8 L746.6,1354.0 L748.6,1354.1 L750.7,1354.2 L752.8,1354.4 L754.9,1354.5 L757.0,1354.6 L759.0,1354.8 L761.1,1354.9 L763.2,1355.0 L765.3,1355.1 L767.4,1355.2 L769.5,1355.3 L771.5,1355.5 L773.6,1355.6 L775.7,1355.7 L777.8,1355.8 L779.9,1355.9 L782.0,1356.0 L784.1,1356.1 L786.1,1356.2 L788.2,1356.3 L790.3,1356.5 L792.4,1356.6 L794.5,1356.7 L796.6,1356.8 L798.7,1356.9 L800.8,1357.0 L802.8,1357.1 L804.9,1357.2 L807.0,1357.4 L809.1,1357.5 L811.2,1357.6 L813.3,1357.7 L815.4,1357.8 L817.5,1358.0 L819.6,1358.1 L821.7,1358.2 L823.8,1358.3 L825.8,1358.5 L827.9,1358.6 L830.0,1358.8 L832.1,1358.9 L834.2,1359.0 L836.3,1359.2 L838.4,1359.4 L840.5,1359.5 L843.0,1359.5 L843.0,221.7 L843.8,220.2 L844.6,221.7 L848.5,275.7 L848.5,1262.0 L848.4,1264.0 L848.4,1266.1 L848.4,1268.2 L848.4,1270.3 L848.5,1272.5 L848.6,1274.6 L848.8,1276.8 L849.0,1278.9 L849.3,1281.1 L849.6,1283.3 L850.0,1285.4 L850.4,1287.6 L850.9,1289.7 L851.5,1291.8 L852.1,1293.9 L852.8,1296.0 L853.6,1298.0 L854.4,1300.1 L855.3,1302.0 L856.3,1304.0 L857.3,1305.9 L858.4,1307.7 L859.6,1309.5 L860.8,1311.3 L862.1,1313.0 L863.4,1314.7 L864.8,1316.2 L866.3,1317.8 L867.8,1319.2 L869.3,1320.6 L870.9,1322.0 L872.5,1323.2 L874.2,1324.4 L875.9,1325.6 L877.6,1326.7 L879.4,1327.7 L881.2,1328.7 L883.0,1329.6 L884.9,1330.4 L886.8,1331.3 L888.8,1332.0 L890.7,1332.8 L892.7,1333.5 L894.7,1334.1 L896.7,1334.7 L898.8,1335.3 L900.9,1335.9 L902.9,1336.4 L905.0,1336.9 L907.2,1337.3 L909.3,1337.8 L911.4,1338.2 L913.5,1338.6 L915.7,1339.0 L917.8,1339.4 L920.0,1339.7 L922.1,1340.1 L924.3,1340.4 L926.4,1340.8 L928.6,1341.1 L930.7,1341.5 L932.9,1341.8 L935.0,1342.1 L937.2,1342.4 L939.3,1342.7 L941.5,1343.0 L943.6,1343.4 L945.7,1343.6 L947.9,1343.9 L950.0,1344.2 L952.2,1344.5 L954.3,1344.8 L956.4,1345.1 L958.6,1345.3 L960.7,1345.6 L962.8,1345.9 L964.9,1346.1 L967.1,1346.4 L969.2,1346.6 L971.3,1346.9 L973.5,1347.1 L975.6,1347.3 L977.7,1347.6 L979.8,1347.8 L982.0,1348.0 L984.1,1348.2 L986.2,1348.4 L988.3,1348.7 L990.5,1348.9 L992.6,1349.1 L994.7,1349.3 L996.8,1349.5 L998.9,1349.7 L1001.1,1349.9 L1003.2,1350.0 L1005.3,1350.2 L1007.4,1350.4 L1009.5,1350.6 L1011.6,1350.8 L1013.8,1350.9 L1015.9,1351.1 L1018.0,1351.3 L1020.1,1351.4 L1022.2,1351.6 L1024.4,1351.7 L1026.5,1351.9 L1028.6,1352.0 L1030.7,1352.2 L1032.8,1352.3 L1034.9,1352.5 L1037.1,1352.6 L1039.2,1352.8 L1041.3,1352.9 L1043.4,1353.0 L1045.5,1353.2 L1047.7,1353.3 L1049.8,1353.4 L1051.9,1353.6 L1054.0,1353.7 L1056.1,1353.8 L1058.3,1353.9 L1060.4,1354.0 L1062.5,1354.2 L1064.6,1354.3 L1066.7,1354.4 L1068.9,1354.5 L1071.0,1354.6 L1073.1,1354.7 L1075.2,1354.8 L1077.4,1354.9 L1079.5,1355.1 L1081.6,1355.2 L1083.8,1355.3 L1085.9,1355.4 L1088.0,1355.5 L1090.2,1355.6 L1092.3,1355.7 L1094.4,1355.8 L1096.6,1355.9 L1098.7,1356.0 L1100.8,1356.1 L1103.0,1356.2 L1105.1,1356.3 L1107.2,1356.4 L1109.4,1356.5 L1111.5,1356.6 L1113.7,1356.6 L1115.8,1356.7 L1118.0,1356.8 L1120.1,1356.9 L1122.3,1357.0 L1124.4,1357.1 L1126.6,1357.2 L1128.7,1357.3 L1130.9,1357.4 L1133.0,1357.5 L1135.2,1357.6 L1137.3,1357.7 L1139.5,1357.8 L1141.0,1357.8 L1141.0,216.0 L1141.8,214.5 L1142.6,216.0 L1147.0,270.0 L1147.0,1296.0 L1147.0,1298.1 L1147.2,1300.2 L1147.4,1302.3 L1147.8,1304.3 L1148.2,1306.3 L1148.8,1308.2 L1149.5,1310.1 L1150.3,1311.9 L1151.1,1313.7 L1152.1,1315.4 L1153.2,1317.0 L1154.4,1318.5 L1155.6,1320.0 L1156.9,1321.4 L1158.3,1322.8 L1159.8,1324.1 L1161.3,1325.3 L1162.9,1326.5 L1164.5,1327.6 L1166.2,1328.6 L1167.9,1329.7 L1169.6,1330.6 L1171.3,1331.6 L1173.1,1332.5 L1174.8,1333.3 L1176.6,1334.1 L1178.4,1334.9 L1180.2,1335.6 L1182.1,1336.3 L1183.9,1337.0 L1185.8,1337.6 L1187.6,1338.2 L1189.5,1338.8 L1191.4,1339.3 L1193.3,1339.8 L1195.3,1340.3 L1197.2,1340.7 L1199.1,1341.2 L1201.1,1341.6 L1203.0,1342.0 L1205.0,1342.4 L1206.9,1342.7 L1208.9,1343.1 L1210.9,1343.4 L1212.9,1343.7 L1214.8,1344.0 L1216.8,1344.3 L1218.8,1344.6 L1220.8,1344.8 L1222.8,1345.1 L1224.8,1345.4 L1226.8,1345.6 L1228.8,1345.9 L1230.8,1346.1 L1232.7,1346.4 L1234.7,1346.6 L1236.7,1346.8 L1238.7,1347.1 L1240.7,1347.3 L1242.7,1347.5 L1244.7,1347.7 L1246.6,1347.9 L1248.6,1348.2 L1250.6,1348.4 L1252.6,1348.6 L1254.6,1348.8 L1256.6,1349.0 L1258.5,1349.1 L1260.5,1349.3 L1262.5,1349.5 L1264.5,1349.7 L1266.5,1349.9 L1268.4,1350.0 L1270.4,1350.2 L1272.4,1350.4 L1274.4,1350.5 L1276.4,1350.7 L1278.3,1350.8 L1280.3,1351.0 L1282.3,1351.1 L1284.3,1351.3 L1286.3,1351.4 L1288.2,1351.6 L1290.2,1351.7 L1292.2,1351.8 L1294.2,1352.0 L1296.2,1352.1 L1298.1,1352.2 L1300.1,1352.3 L1302.1,1352.4 L1304.1,1352.6 L1306.1,1352.7 L1308.0,1352.8 L1310.0,1352.9 L1312.0,1353.0 L1314.0,1353.1 L1315.9,1353.2 L1317.9,1353.3 L1319.9,1353.4 L1321.9,1353.5 L1323.9,1353.6 L1325.8,1353.6 L1327.8,1353.7 L1329.8,1353.8 L1331.8,1353.9 L1333.8,1354.0 L1335.7,1354.0 L1337.7,1354.1 L1339.7,1354.2 L1341.7,1354.2 L1343.6,1354.3 L1345.6,1354.4 L1347.6,1354.4 L1349.6,1354.5 L1351.6,1354.6 L1353.5,1354.6 L1355.5,1354.7 L1357.5,1354.7 L1359.5,1354.8 L1361.5,1354.8 L1363.4,1354.9 L1365.4,1354.9 L1367.4,1355.0 L1369.4,1355.0 L1371.4,1355.0 L1373.4,1355.1 L1375.3,1355.1 L1377.3,1355.2 L1379.3,1355.2 L1381.3,1355.2 L1383.3,1355.3 L1385.3,1355.3 L1387.2,1355.3 L1389.2,1355.4 L1391.2,1355.4 L1393.2,1355.4 L1395.2,1355.5 L1397.2,1355.5 L1399.2,1355.5 L1401.1,1355.6 L1403.1,1355.6 L1405.1,1355.6 L1407.1,1355.6 L1409.1,1355.7 L1411.1,1355.7 L1413.1,1355.7 L1415.1,1355.7 L1417.1,1355.8 L1419.1,1355.8 L1421.0,1355.8 L1423.0,1355.8 L1425.0,1355.8 L1427.0,1355.9 L1429.0,1355.9 L1431.0,1355.9 L1433.0,1355.9 L1435.0,1356.0 L1437.0,1356.0 L1439.0,1356.0 L1440.5,1356.0 L1440.5,211.0 L1441.3,209.5 L1442.1,211.0 L1446.5,265.0 L1446.5,1304.0 L1446.8,1306.1 L1447.1,1308.2 L1447.6,1310.1 L1448.2,1312.0 L1448.9,1313.8 L1449.8,1315.5 L1450.7,1317.2 L1451.6,1318.8 L1452.7,1320.3 L1453.9,1321.7 L1455.1,1323.1 L1456.4,1324.4 L1457.7,1325.7 L1459.1,1326.9 L1460.6,1328.1 L1462.1,1329.2 L1463.7,1330.2 L1465.3,1331.2 L1466.9,1332.2 L1468.5,1333.1 L1470.2,1334.0 L1471.9,1334.8 L1473.6,1335.6 L1475.3,1336.4 L1477.0,1337.1 L1478.8,1337.8 L1480.5,1338.4 L1482.3,1339.0 L1484.1,1339.6 L1485.9,1340.2 L1487.8,1340.7 L1489.6,1341.2 L1491.5,1341.7 L1493.3,1342.1 L1495.2,1342.6 L1497.1,1343.0 L1499.0,1343.4 L1500.9,1343.7 L1502.8,1344.1 L1504.7,1344.4 L1506.6,1344.7 L1508.5,1345.0 L1510.4,1345.3 L1512.4,1345.6 L1514.3,1345.8 L1516.2,1346.1 L1518.2,1346.3 L1520.1,1346.6 L1522.1,1346.8 L1524.0,1347.0 L1525.9,1347.3 L1527.9,1347.5 L1529.8,1347.7 L1531.7,1347.9 L1533.7,1348.1 L1535.6,1348.3 L1537.5,1348.5 L1539.4,1348.7 L1541.4,1348.9 L1543.3,1349.1 L1545.2,1349.3 L1547.1,1349.5 L1549.1,1349.7 L1551.0,1349.8 L1552.9,1350.0 L1554.8,1350.2 L1556.8,1350.4 L1558.7,1350.5 L1560.6,1350.7 L1562.5,1350.9 L1564.4,1351.0 L1566.4,1351.2 L1568.3,1351.3 L1570.2,1351.5 L1572.1,1351.6 L1574.0,1351.8 L1575.9,1351.9 L1577.8,1352.0 L1579.8,1352.2 L1581.7,1352.3 L1583.6,1352.4 L1585.5,1352.5 L1587.4,1352.7 L1589.3,1352.8 L1591.2,1352.9 L1593.1,1353.0 L1595.0,1353.1 L1596.9,1353.2 L1598.9,1353.4 L1600.8,1353.5 L1602.7,1353.6 L1604.6,1353.7 L1606.5,1353.8 L1608.4,1353.9 L1610.3,1353.9 L1612.2,1354.0 L1614.1,1354.1 L1616.0,1354.2 L1617.9,1354.3 L1619.8,1354.4 L1621.7,1354.5 L1623.7,1354.6 L1625.6,1354.6 L1627.5,1354.7 L1629.4,1354.8 L1631.3,1354.9 L1633.2,1354.9 L1635.1,1355.0 L1637.0,1355.1 L1638.9,1355.1 L1640.8,1355.2 L1642.7,1355.2 L1644.6,1355.3 L1646.5,1355.4 L1648.5,1355.4 L1650.4,1355.5 L1652.3,1355.5 L1654.2,1355.6 L1656.1,1355.6 L1658.0,1355.7 L1659.9,1355.7 L1661.8,1355.8 L1663.7,1355.8 L1665.6,1355.9 L1667.6,1355.9 L1669.5,1356.0 L1671.4,1356.0 L1673.3,1356.0 L1675.2,1356.1 L1677.1,1356.1 L1679.0,1356.2 L1681.0,1356.2 L1682.9,1356.2 L1684.8,1356.3 L1686.7,1356.3 L1688.6,1356.3 L1690.5,1356.4 L1692.5,1356.4 L1694.4,1356.4 L1696.3,1356.5 L1698.2,1356.5 L1700.2,1356.5 L1702.1,1356.6 L1704.0,1356.6 L1705.9,1356.6 L1707.9,1356.7 L1709.8,1356.7 L1711.7,1356.7 L1713.6,1356.7 L1715.6,1356.8 L1717.5,1356.8 L1719.4,1356.8 L1721.4,1356.8 L1723.3,1356.9 L1725.2,1356.9 L1727.2,1356.9 L1729.1,1356.9 L1731.1,1357.0 L1733.0,1357.0 L1735.3,1357.0 L1735.3,211.0 L1736.1,209.5 L1736.9,211.0 L1741.3,265.0 L1741.3,1310.0 L1741.5,1312.3 L1741.8,1314.6 L1742.3,1316.7 L1742.9,1318.8 L1743.7,1320.8 L1744.5,1322.8 L1745.5,1324.6 L1746.6,1326.3 L1747.9,1327.9 L1749.2,1329.4 L1750.7,1330.8 L1752.3,1332.1 L1753.9,1333.2 L1755.6,1334.3 L1757.4,1335.3 L1759.3,1336.3 L1761.2,1337.1 L1763.1,1337.9 L1765.1,1338.7 L1767.0,1339.4 L1769.0,1340.1 L1771.0,1340.8 L1773.0,1341.4 L1775.0,1342.0 L1777.0,1342.6 L1779.0,1343.1 L1781.0,1343.6 L1783.1,1344.1 L1785.1,1344.5 L1787.2,1345.0 L1789.2,1345.4 L1791.3,1345.8 L1793.4,1346.1 L1795.4,1346.4 L1797.5,1346.8 L1799.6,1347.1 L1801.7,1347.3 L1803.8,1347.6 L1805.9,1347.9 L1808.0,1348.1 L1810.0,1348.3 L1812.2,1348.6 L1814.3,1348.8 L1816.4,1349.0 L1818.5,1349.2 L1820.6,1349.4 L1822.7,1349.5 L1824.8,1349.7 L1826.9,1349.9 L1829.0,1350.1 L1831.1,1350.2 L1833.2,1350.4 L1835.3,1350.6 L1837.4,1350.8 L1839.5,1350.9 L1841.6,1351.1 L1843.7,1351.3 L1845.8,1351.4 L1847.9,1351.6 L1850.0,1351.7 L1852.1,1351.9 L1854.2,1352.0 L1856.3,1352.2 L1858.4,1352.3 L1860.5,1352.5 L1862.6,1352.6 L1864.7,1352.8 L1866.8,1352.9 L1868.9,1353.0 L1871.0,1353.2 L1873.1,1353.3 L1875.2,1353.4 L1877.3,1353.6 L1879.4,1353.7 L1881.5,1353.8 L1883.6,1354.0 L1885.7,1354.1 L1887.8,1354.2 L1889.9,1354.3 L1892.0,1354.4 L1894.1,1354.6 L1896.2,1354.7 L1898.3,1354.8 L1900.4,1354.9 L1902.5,1355.0 L1904.6,1355.1 L1906.7,1355.2 L1908.8,1355.3 L1910.9,1355.4 L1913.0,1355.5 L1915.1,1355.6 L1917.2,1355.7 L1919.3,1355.8 L1921.4,1355.9 L1923.5,1356.0 L1925.6,1356.1 L1927.7,1356.2 L1929.8,1356.3 L1931.9,1356.4 L1934.0,1356.4 L1936.1,1356.5 L1938.2,1356.6 L1940.3,1356.7 L1942.4,1356.8 L1944.5,1356.8 L1946.6,1356.9 L1948.7,1357.0 L1950.8,1357.1 L1952.9,1357.1 L1955.0,1357.2 L1957.1,1357.3 L1959.2,1357.3 L1961.3,1357.4 L1963.4,1357.5 L1965.5,1357.5 L1967.6,1357.6 L1969.7,1357.6 L1971.8,1357.7 L1973.9,1357.7 L1976.0,1357.8 L1978.1,1357.9 L1980.2,1357.9 L1982.3,1358.0 L1984.4,1358.0 L1986.5,1358.1 L1988.6,1358.1 L1990.7,1358.2 L1992.8,1358.2 L1994.9,1358.2 L1997.0,1358.3 L1999.1,1358.3 L2001.2,1358.4 L2003.3,1358.4 L2005.4,1358.4 L2007.5,1358.5 L2009.6,1358.5 L2011.7,1358.5 L2013.8,1358.6 L2015.9,1358.6 L2018.0,1358.6 L2020.1,1358.7 L2022.2,1358.7 L2024.3,1358.7 L2026.4,1358.7 L2028.5,1358.8 L2030.6,1358.8 L2032.7,1358.8 L2034.8,1358.8 L2036.9,1358.9 L2039.0,1358.9 L2041.1,1358.9 L2043.2,1358.9 L2045.3,1358.9 L2047.5,1358.9 L2049.6,1359.0 L2051.7,1359.0 L2053.8,1359.0 L2055.9,1359.0 L2058.0,1359.0" fill="none" stroke="#732a87" stroke-width="9" stroke-linejoin="round" stroke-linecap="round"/>
<path d="M269.5,214 V1366" stroke="#747474" stroke-width="5" opacity="0.45"/>
<rect x="1253.5" y="84.3" width="760" height="137.7" rx="3" fill="#fff" stroke="#747474" stroke-width="5"/>
<path d="M1272,122.5 H1435.5" stroke="#000" stroke-width="9"/>
<path d="M1272,186.5 H1435.5" stroke="#732a87" stroke-width="9"/>
<g font-family='"Liberation Sans", Arial, sans-serif' font-size="55" fill="#222222" stroke="#222222" stroke-width="1.00" stroke-linejoin="round"><text x="222.0" y="1389.3" text-anchor="end" textLength="28.9" lengthAdjust="spacingAndGlyphs">0</text><text x="219.0" y="1200.1" text-anchor="end" textLength="115.6" lengthAdjust="spacingAndGlyphs">1000</text><text x="219.0" y="1010.9" text-anchor="end" textLength="115.6" lengthAdjust="spacingAndGlyphs">2000</text><text x="219.0" y="821.7" text-anchor="end" textLength="115.6" lengthAdjust="spacingAndGlyphs">3000</text><text x="219.0" y="632.4" text-anchor="end" textLength="115.6" lengthAdjust="spacingAndGlyphs">4000</text><text x="219.0" y="443.2" text-anchor="end" textLength="115.6" lengthAdjust="spacingAndGlyphs">5000</text><text x="219.0" y="254.0" text-anchor="end" textLength="115.6" lengthAdjust="spacingAndGlyphs">6000</text><text x="219.0" y="64.8" text-anchor="end" textLength="115.6" lengthAdjust="spacingAndGlyphs">7000</text><text x="2097" y="1389.3" textLength="28.9" lengthAdjust="spacingAndGlyphs">0</text><text x="2097" y="1256.8" textLength="57.8" lengthAdjust="spacingAndGlyphs">20</text><text x="2097" y="1124.4" textLength="57.8" lengthAdjust="spacingAndGlyphs">40</text><text x="2097" y="992.0" textLength="57.8" lengthAdjust="spacingAndGlyphs">60</text><text x="2097" y="859.5" textLength="57.8" lengthAdjust="spacingAndGlyphs">80</text><text x="2097" y="727.0" textLength="86.7" lengthAdjust="spacingAndGlyphs">100</text><text x="2097" y="594.6" textLength="86.7" lengthAdjust="spacingAndGlyphs">120</text><text x="2097" y="462.2" textLength="86.7" lengthAdjust="spacingAndGlyphs">140</text><text x="2097" y="329.7" textLength="86.7" lengthAdjust="spacingAndGlyphs">160</text><text x="2097" y="197.3" textLength="86.7" lengthAdjust="spacingAndGlyphs">180</text><text x="2097" y="64.8" textLength="86.7" lengthAdjust="spacingAndGlyphs">200</text><text x="266.5" y="1459.5" text-anchor="middle" textLength="28.9" lengthAdjust="spacingAndGlyphs">0</text><text x="410.0" y="1459.5" text-anchor="middle" textLength="28.9" lengthAdjust="spacingAndGlyphs">1</text><text x="551.0" y="1459.5" text-anchor="middle" textLength="28.9" lengthAdjust="spacingAndGlyphs">2</text><text x="692.0" y="1459.5" text-anchor="middle" textLength="28.9" lengthAdjust="spacingAndGlyphs">3</text><text x="833.0" y="1459.5" text-anchor="middle" textLength="28.9" lengthAdjust="spacingAndGlyphs">4</text><text x="974.0" y="1459.5" text-anchor="middle" textLength="28.9" lengthAdjust="spacingAndGlyphs">5</text><text x="1115.0" y="1459.5" text-anchor="middle" textLength="28.9" lengthAdjust="spacingAndGlyphs">6</text><text x="1256.0" y="1459.5" text-anchor="middle" textLength="28.9" lengthAdjust="spacingAndGlyphs">7</text><text x="1397.0" y="1459.5" text-anchor="middle" textLength="28.9" lengthAdjust="spacingAndGlyphs">8</text><text x="1538.0" y="1459.5" text-anchor="middle" textLength="28.9" lengthAdjust="spacingAndGlyphs">9</text><text x="1679.0" y="1459.5" text-anchor="middle" textLength="57.8" lengthAdjust="spacingAndGlyphs">10</text><text x="1820.0" y="1459.5" text-anchor="middle" textLength="57.8" lengthAdjust="spacingAndGlyphs">11</text><text x="1961.0" y="1459.5" text-anchor="middle" textLength="57.8" lengthAdjust="spacingAndGlyphs">12</text><text x="350.11" y="1204.00" font-size="54.0" textLength="87.79" lengthAdjust="spacingAndGlyphs">5°C</text><text x="320.12" y="1269.70" font-size="54.0" textLength="177.28" lengthAdjust="spacingAndGlyphs">cooling</text><text x="643.62" y="1226.50" font-size="54.0" textLength="113.93" lengthAdjust="spacingAndGlyphs">10°C</text><text x="611.12" y="1292.50" font-size="54.0" textLength="177.80" lengthAdjust="spacingAndGlyphs">cooling</text><text x="930.23" y="874.60" font-size="54.0" textLength="113.50" lengthAdjust="spacingAndGlyphs">15°C</text><text x="898.23" y="939.70" font-size="54.0" textLength="176.76" lengthAdjust="spacingAndGlyphs">cooling</text><text x="1234.35" y="913.50" font-size="54.0" textLength="117.65" lengthAdjust="spacingAndGlyphs">20°C</text><text x="1205.61" y="978.70" font-size="54.0" textLength="178.01" lengthAdjust="spacingAndGlyphs">cooling</text><text x="1539.40" y="979.60" font-size="54.0" textLength="115.57" lengthAdjust="spacingAndGlyphs">25°C</text><text x="1508.93" y="1044.00" font-size="54.0" textLength="176.97" lengthAdjust="spacingAndGlyphs">cooling</text><text x="1849.81" y="1012.40" font-size="54.0" textLength="116.88" lengthAdjust="spacingAndGlyphs">30°C</text><text x="1820.64" y="1079.40" font-size="54.0" textLength="176.35" lengthAdjust="spacingAndGlyphs">cooling</text><text x="1444.37" y="141.80" font-size="48.0" textLength="229.56" lengthAdjust="spacingAndGlyphs">Measured</text><text x="1682.50" y="141.80" font-size="48.0" textLength="98.17" lengthAdjust="spacingAndGlyphs">heat</text><text x="1790.14" y="141.80" font-size="48.0" textLength="83.13" lengthAdjust="spacingAndGlyphs">flux</text><text x="1444.08" y="207.20" font-size="48.0" textLength="228.73" lengthAdjust="spacingAndGlyphs">Measured</text><text x="1682.51" y="207.20" font-size="48.0" textLength="216.06" lengthAdjust="spacingAndGlyphs">hydrogen</text><text x="1902.59" y="207.20" font-size="48.0" textLength="89.59" lengthAdjust="spacingAndGlyphs">flow</text><text x="1051.61" y="1533.00" font-size="59.0" textLength="137.64" lengthAdjust="spacingAndGlyphs">Time</text><text x="1203.72" y="1533.00" font-size="59.0" textLength="74.57" lengthAdjust="spacingAndGlyphs">(h)</text></g>
<text transform="translate(69.5,910.5) rotate(-90)" x="0" y="0" font-family='"Liberation Sans", Arial, sans-serif' font-size="66" fill="#222222" stroke="#222222" stroke-width="1" stroke-linejoin="round" textLength="415.5" lengthAdjust="spacingAndGlyphs">Heat flux (W/m²)</text>
<text transform="translate(2270.5,879.5) rotate(-90)" x="0" y="0" font-family='"Liberation Sans", Arial, sans-serif' font-size="60" fill="#222222" stroke="#222222" stroke-width="1" stroke-linejoin="round" textLength="369" lengthAdjust="spacingAndGlyphs"><tspan font-family='"Liberation Serif", "Times New Roman", serif' font-size="52">H</tspan><tspan font-size="32" dy="9">2</tspan><tspan dy="-9"> flow (L/min)</tspan></text>
</g>
</svg>
</body></html>
